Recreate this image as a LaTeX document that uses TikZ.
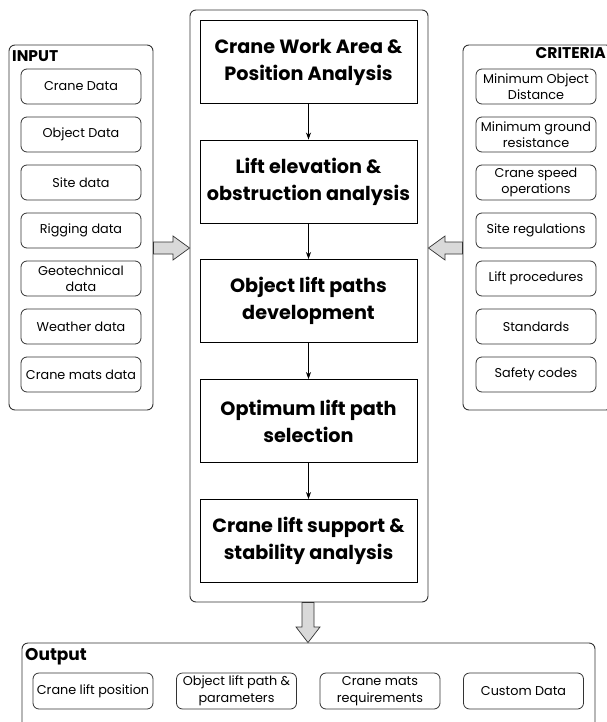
\documentclass[tikz,border=0pt]{standalone}
\usepackage{fontspec}
\setmainfont{Poppins}
\usetikzlibrary{arrows.meta,calc}
\definecolor{linec}{HTML}{333333}
\definecolor{arrowfill}{HTML}{D9D9D9}
\begin{document}
\begin{tikzpicture}[x=1pt,y=-1pt,
  container/.style={draw=linec,line width=0.9pt,rounded corners=6pt,inner sep=0pt},
  stepbox/.style={draw=black,line width=0.9pt,minimum width=217pt,minimum height=83pt,inner sep=0pt,align=center,font=\fontsize{19.2}{27}\selectfont\bfseries},
  item/.style={draw=linec,line width=0.8pt,rounded corners=6pt,minimum width=120pt,minimum height=35pt,inner sep=0pt,align=center,font=\fontsize{12.8}{16.5}\selectfont},
  flow/.style={-{Stealth[length=7pt,width=5pt]},black,line width=0.7pt},
  bigarrow/.style={draw=linec,fill=arrowfill,line width=0.7pt,line join=miter},
  title/.style={font=\fontsize{15.5}{18}\selectfont\bfseries,inner sep=0pt}
]
\useasboundingbox (0,0) rectangle (606,722);
\fill[white] (0,0) rectangle (606,722);

% containers
\node[container,minimum width=238pt,minimum height=592pt] (main) at (309,306) {};
\node[container,minimum width=144pt,minimum height=365pt] (inp) at (81,227.5) {};
\node[container,minimum width=149pt,minimum height=365pt] (crit) at (537.5,227.5) {};
\node[container,minimum width=573pt,minimum height=90pt] (out) at (308.5,688) {};

% titles
\node[title,anchor=north west] (inptitle) at (12,50) {INPUT};
\node[title,anchor=north east] (crittitle) at (606,47) {CRITERIA};
\node[title,anchor=north west,font=\fontsize{17}{20}\selectfont\bfseries] (outtitle) at (25,648) {Output};

% steps
\node[stepbox] (s1) at (308.5,62) {Crane Work Area \&\\Position Analysis};
\node[stepbox] (s2) at (308.5,181.5) {Lift elevation \&\\obstruction analysis};
\node[stepbox] (s3) at (308.5,301) {Object lift paths\\development};
\node[stepbox] (s4) at (308.5,421) {Optimum lift path\\selection};
\node[stepbox] (s5) at (308.5,541) {Crane lift support \&\\stability analysis};
\draw[flow] (s1) -- (s2);
\draw[flow] (s2) -- (s3);
\draw[flow] (s3) -- (s4);
\draw[flow] (s4) -- (s5);

% input items
\node[item] (i1) at (81,86.5) {Crane Data};
\node[item] (i2) at (81,134.5) {Object Data};
\node[item] (i3) at (81,182.5) {Site data};
\node[item] (i4) at (81,230.5) {Rigging data};
\node[item] (i5) at (81,278.5) {Geotechnical\\data};
\node[item] (i6) at (81,326.5) {Weather data};
\node[item] (i7) at (81,374.5) {Crane mats data};

% criteria items
\node[item] (c1) at (536,86.5) {Minimum Object\\Distance};
\node[item] (c2) at (536,134.5) {Minimum ground\\resistance};
\node[item] (c3) at (536,182.5) {Crane speed\\operations};
\node[item] (c4) at (536,230.5) {Site regulations};
\node[item] (c5) at (536,278.5) {Lift procedures};
\node[item] (c6) at (536,326.5) {Standards};
\node[item] (c7) at (536,374.5) {Safety codes};

% output items
\node[item,minimum height=36pt] (o1) at (93,691) {Crane lift position};
\node[item,minimum height=36pt] (o2) at (236.5,691) {Object lift path \&\\parameters};
\node[item,minimum height=36pt] (o3) at (380,691) {Crane mats\\requirements};
\node[item,minimum height=36pt] (o4) at (523.5,691) {Custom Data};

% big arrows
\coordinate (ia) at (inp.east |- 0,248);
\coordinate (ma) at (main.west |- 0,248);
\draw[bigarrow] ($(ia)+(0,-6)$) -- (173,242) -- (173,236) -- (ma) -- (173,260) -- (173,254) -- ($(ia)+(0,6)$) -- cycle;
\coordinate (ca) at (crit.west |- 0,248);
\coordinate (mb) at (main.east |- 0,248);
\draw[bigarrow] ($(ca)+(0,-6)$) -- (445,242) -- (445,236) -- (mb) -- (445,260) -- (445,254) -- ($(ca)+(0,6)$) -- cycle;
\coordinate (md) at (main.south -| 308,0);
\coordinate (od) at (out.north -| 308,0);
\draw[bigarrow] ($(md)+(-6,0)$) -- (302,627) -- (296,627) -- (od) -- (320,627) -- (314,627) -- ($(md)+(6,0)$) -- cycle;
\end{tikzpicture}
\end{document}
